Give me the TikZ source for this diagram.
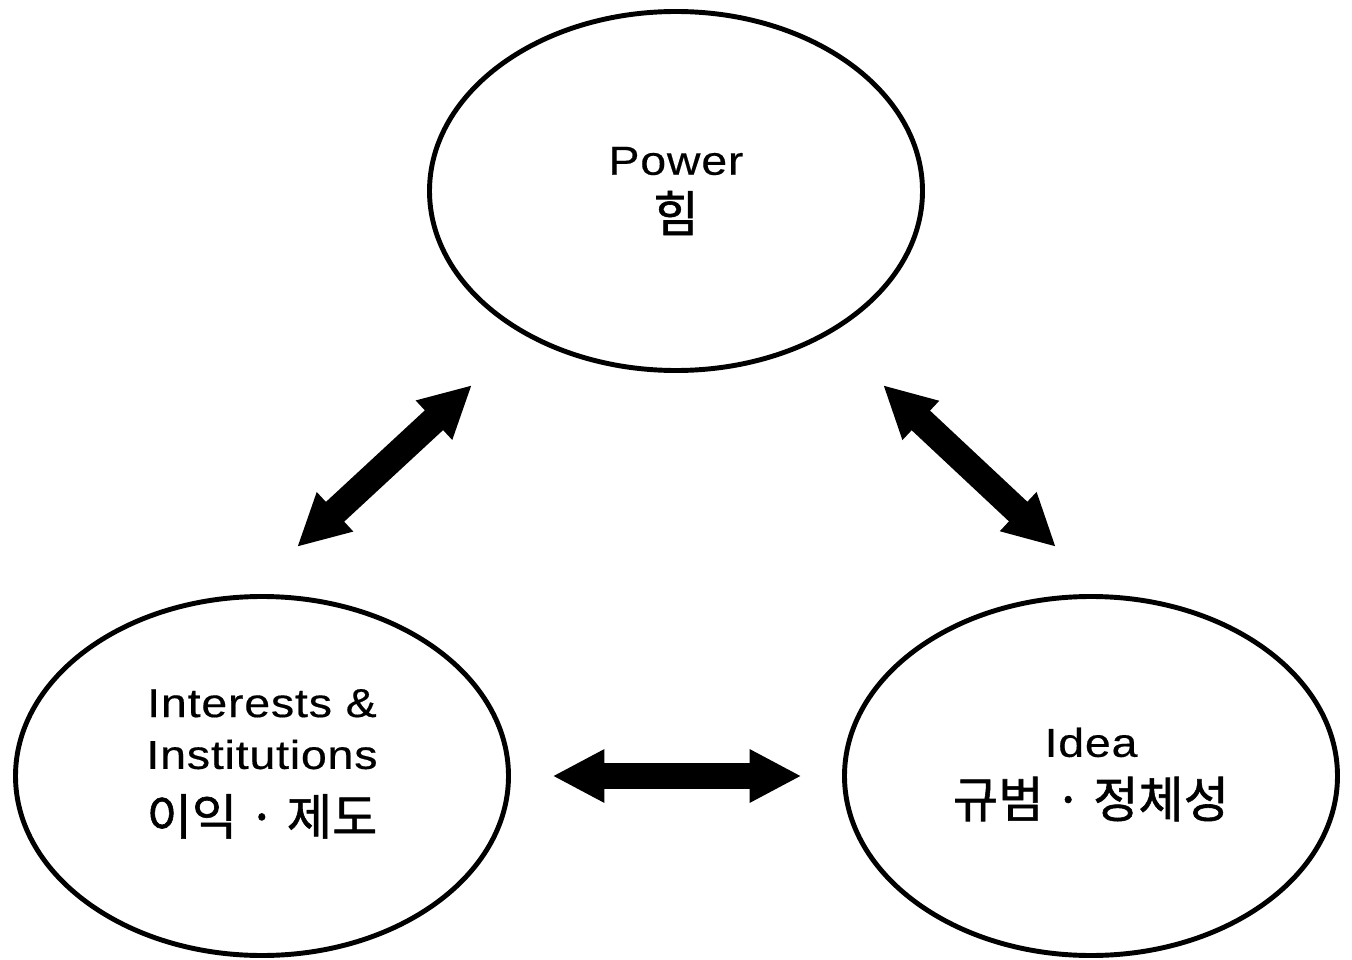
\documentclass[tikz,border=0pt]{standalone}
\usepackage{fontspec}
\setmainfont{Liberation Sans}[FakeStretch=1.15,LetterSpace=2,FakeBold=0.4]
\newfontfamily\kr{Noto Sans CJK KR}[FakeBold=1.2]
\usetikzlibrary{shapes.geometric,arrows.meta}

\newcommand{\hangul}[1]{{\kr\fontsize{28}{29.5}\selectfont #1}}

\begin{document}
\begin{tikzpicture}[
  bubble/.style={ellipse, draw, line width=2.8pt, minimum width=9.86cm, minimum height=7.18cm, inner sep=0pt, outer sep=0pt, align=center, font=\fontsize{23}{29.5}\selectfont},
  twoway/.style={line width=15.3pt, {Triangle[length=29.5pt,width=28.3pt]}-{Triangle[length=29.5pt,width=28.3pt]}}
]
  \useasboundingbox (0,0) rectangle (27.04,-19.2);
	\node[bubble] (power) at (13.52,-3.82) {Power\\[3pt]\hangul{힘}};
	\node[bubble, text depth=16pt] (inst) at (5.24,-15.52) {Interests \&\\Institutions\\[8pt]\hangul{이익 · 제도}};
	\node[bubble, text depth=4pt] (idea) at (21.82,-15.52) {Idea\\[5pt]\hangul{규범 · 정체성}};
	\coordinate (L1) at (5.94,-10.94);
	\coordinate (L2) at (9.44,-7.70);
	\coordinate (R1) at (17.66,-7.70);
	\coordinate (R2) at (21.12,-10.94);
	\draw[twoway] (L1) -- (L2);
	\draw[twoway] (R1) -- (R2);
	\draw[twoway, shorten <=0.88cm, shorten >=0.86cm] (inst) -- (idea);
\end{tikzpicture}
\end{document}
